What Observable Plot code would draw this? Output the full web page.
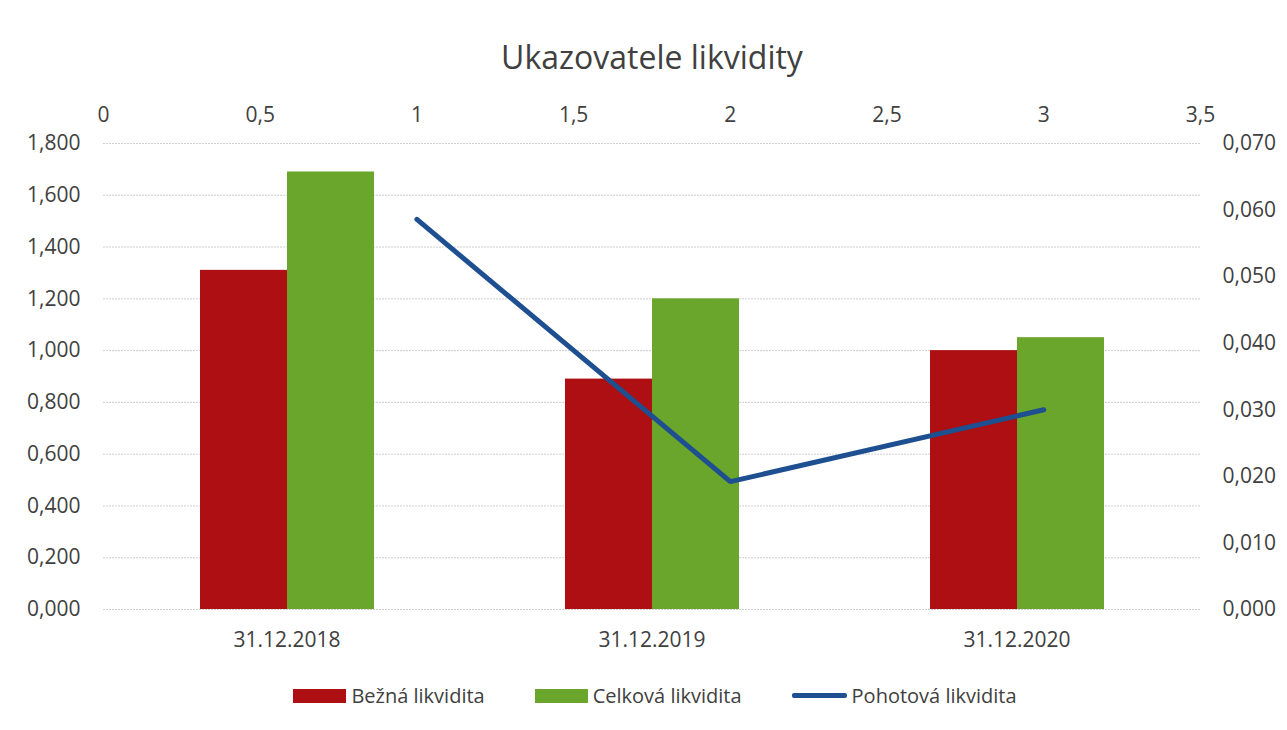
<!DOCTYPE html>
<html><head><meta charset="utf-8">
<script src="https://cdn.jsdelivr.net/npm/d3@7"></script>
<script src="https://cdn.jsdelivr.net/npm/@observablehq/plot@0.6"></script>
<style>
body{margin:0;background:#fff;font-family:"Open Sans",sans-serif;}
#wrap{position:relative;width:1287px;height:730px;overflow:hidden;}
#title{position:absolute;top:36px;left:0;width:1304px;text-align:center;font-size:32px;color:#404040;line-height:42px;}
.layer{position:absolute;left:0;top:90px;}
#legend{position:absolute;top:682px;left:0;width:1310px;display:flex;justify-content:center;align-items:center;gap:50px;font-size:20px;color:#404040;}
.item{display:flex;align-items:center;gap:5px;}
.sw{width:53px;height:14px;display:inline-block;}
.ln{width:55px;height:4.5px;border-radius:2px;display:inline-block;}
</style></head>
<body><div id="wrap">
<div id="title">Ukazovatele likvidity</div>
<div id="g1" class="layer"></div>
<div id="g2" class="layer"></div>
<div id="g3" class="layer"></div>
<div id="legend"></div>
</div>
<script>
const dates = ["31.12.2018", "31.12.2019", "31.12.2020"];
const seriesNames = ["Bežná likvidita", "Celková likvidita", "Pohotová likvidita"];
const bezna = [1.31, 0.89, 1.00];
const celkova = [1.69, 1.20, 1.05];
const lineX = [1, 2, 3];
const pohotova = [0.0586, 0.0192, 0.0300];
const leftTicks = [0, 0.2, 0.4, 0.6, 0.8, 1.0, 1.2, 1.4, 1.6, 1.8];
const rightTicks = [0, 0.01, 0.02, 0.03, 0.04, 0.05, 0.06, 0.07];
const topTicks = [0, 0.5, 1, 1.5, 2, 2.5, 3, 3.5];
const colors = ["#ad0f12", "#6aa62c", "#1d4f91"];

const W = 1287, H = 580;
const M = {marginTop: 53, marginBottom: 61, marginLeft: 103, marginRight: 87};
const fmt3 = d => d3.format(".3f")(d).replace(".", ",");
const fmtTop = d => String(d).replace(".", ",");
const baseStyle = {background: "none", fontFamily: "Open Sans", fontSize: "21px", color: "#404040", overflow: "visible"};

// Layer 1: grid, left axis, top axis
const p1 = Plot.plot({
  width: W, height: H, ...M, style: baseStyle,
  x: {domain: [0, 3.5]},
  y: {domain: [0, 1.8]},
  marks: [
    Plot.gridY(leftTicks, {stroke: "#cfcfcf", strokeOpacity: 1, strokeDasharray: "2,1"}),
    Plot.axisY(leftTicks, {anchor: "left", tickSize: 0, tickPadding: 23, tickFormat: fmt3, label: null, fill: "#404040"}),
    Plot.axisX(topTicks, {anchor: "top", tickSize: 0, tickPadding: 22, tickFormat: fmtTop, label: null, fill: "#404040"})
  ]
});
document.getElementById("g1").append(p1);

// Layer 2: grouped bars
const barSeries = seriesNames.slice(0, 2);
const barData = dates.flatMap((d, i) => [
  {date: d, series: barSeries[0], value: bezna[i]},
  {date: d, series: barSeries[1], value: celkova[i]}
]);
const p2 = Plot.plot({
  width: W, height: H, ...M, style: baseStyle,
  fx: {domain: dates, paddingInner: 0.52, paddingOuter: 0.26, label: null, axis: null},
  x: {domain: barSeries, axis: null, padding: 0},
  y: {domain: [0, 1.8], axis: null},
  color: {domain: barSeries, range: colors.slice(0, 2)},
  marks: [
    Plot.barY(barData, {fx: "date", x: "series", y: "value", fill: "series"}),
    Plot.axisFx({anchor: "bottom", tickSize: 0, tickPadding: 23, label: null, fill: "#404040"})
  ]
});
document.getElementById("g2").append(p2);

// Layer 3: line + right axis
const lineData = lineX.map((x, i) => ({x, y: pohotova[i]}));
const p3 = Plot.plot({
  width: W, height: H, ...M, style: baseStyle,
  x: {domain: [0, 3.5], axis: null},
  y: {domain: [0, 0.07]},
  marks: [
    Plot.axisY(rightTicks, {anchor: "right", tickSize: 0, tickPadding: 22, tickFormat: fmt3, label: null, fill: "#404040"}),
    Plot.line(lineData, {x: "x", y: "y", stroke: colors[2], strokeWidth: 5, strokeLinecap: "round", strokeLinejoin: "miter"})
  ]
});
document.getElementById("g3").append(p3);

// Legend
const lg = document.getElementById("legend");
seriesNames.forEach((s, i) => {
  const it = document.createElement("div");
  it.className = "item";
  const sw = document.createElement("span");
  sw.className = i < 2 ? "sw" : "ln";
  sw.style.background = colors[i];
  const t = document.createElement("span");
  t.textContent = s;
  it.append(sw, t);
  lg.append(it);
});
</script>
</body></html>
